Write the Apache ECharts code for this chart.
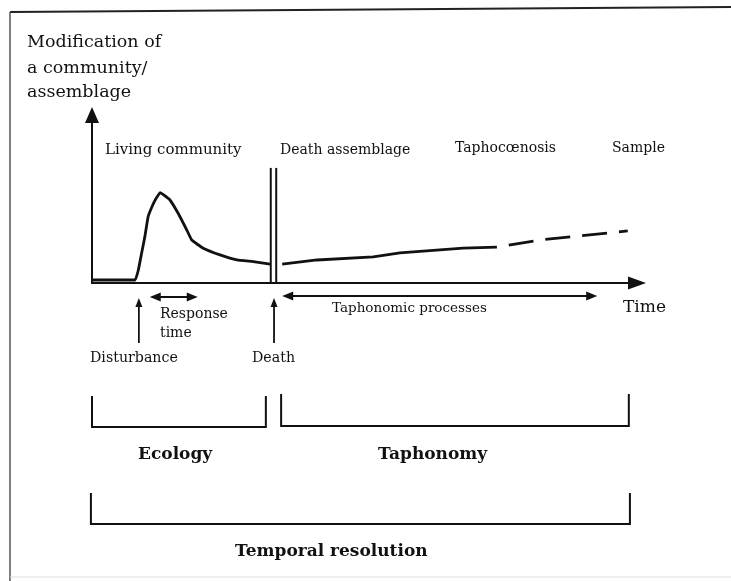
<!DOCTYPE html>
<html><head><meta charset="utf-8">
<script src="https://cdn.jsdelivr.net/npm/echarts@6/dist/echarts.min.js"></script>
<style>html,body{margin:0;padding:0;background:#fff}#c{width:731px;height:581px}</style>
</head><body><div id="c"></div>
<script>
// ---- data (time in arbitrary units 0-100, modification in arbitrary units 0-100) ----
const livingTime  = [0, 7.9, 8.5, 9.1, 9.7, 10.3, 11.0, 11.6, 12.5, 14.3, 15.8, 17.4, 18.3, 20.4, 23.5, 26.6, 29.6, 32.7];
const livingValue = [1.8, 1.8, 7.7, 17.7, 27.6, 39.5, 45.4, 49.4, 53.8, 49.4, 41.5, 31.5, 25.6, 20.7, 16.7, 13.7, 12.7, 11.3];
const deathTime   = [34.9, 41.3, 51.6, 56.5, 68.1, 74.3];
const deathValue  = [11.3, 13.7, 15.5, 17.9, 20.8, 21.4];
const sampleTime  = [74.3, 82.2, 98.3];
const sampleValue = [21.4, 25.6, 31.0];
const deathMarkTimes = [32.8, 33.8];
const deathMarkTop = 68.5;
const stageLabels = ['Living community', 'Death assemblage', 'Taphoc\u0153nosis', 'Sample'];
const eventNames = ['Disturbance', 'Death'];
const eventTimes = [8.6, 33.4];
const responseSpan = [10.6, 19.4];
const taphonomicSpan = [34.9, 92.7];
const bracketNames = ['Ecology', 'Taphonomy', 'Temporal resolution'];
const bracketSpans = [[0, 31.9], [34.7, 98.5], [-0.2, 98.7]];
const yTitleLines = ['Modification of', 'a community/', 'assemblage'];

const chart = echarts.init(document.getElementById('c'));
const INK = '#111';
const F = '"DejaVu Serif", "Liberation Serif", serif';
const zip = (a, b) => a.map((v, i) => [v, b[i]]);
const axisCommon = {
  type: 'value', min: 0, max: 100, splitLine: {show: false},
  axisTick: {show: false}, axisLabel: {show: false}
};
chart.setOption({
  animation: false,
  backgroundColor: '#fff',
  grid: {left: 92, top: 115, right: 94, bottom: 298},
  xAxis: Object.assign({}, axisCommon, {
    axisLine: {onZero: false, lineStyle: {color: INK, width: 2}, symbol: ['none', 'triangle'], symbolSize: [13, 18]}
  }),
  yAxis: Object.assign({}, axisCommon, {
    axisLine: {onZero: false, lineStyle: {color: INK, width: 2}, symbol: ['none', 'triangle'], symbolSize: [14, 16]}
  }),
  series: [
    {type: 'line', data: zip(livingTime, livingValue), symbol: 'none', smooth: 0.1,
      lineStyle: {color: INK, width: 2.8}},
    {type: 'line', data: [[deathMarkTimes[0], 0], [deathMarkTimes[0], deathMarkTop]], symbol: 'none',
      lineStyle: {color: INK, width: 2}},
    {type: 'line', data: [[deathMarkTimes[1], 0], [deathMarkTimes[1], deathMarkTop]], symbol: 'none',
      lineStyle: {color: INK, width: 2}},
    {type: 'line', data: zip(deathTime, deathValue), symbol: 'none',
      lineStyle: {color: INK, width: 2.8}},
    {type: 'line', data: zip(sampleTime, sampleValue), symbol: 'none',
      lineStyle: {color: INK, width: 2.8, type: [25, 12], dashOffset: 25}}
  ]
});

const px = t => chart.convertToPixel({gridIndex: 0}, [t, 0])[0];
const g = [];
const line = (x1, y1, x2, y2, w, c) => g.push({type: 'line', shape: {x1, y1, x2, y2}, style: {stroke: c || INK, lineWidth: w || 2}});
const poly = (pts) => g.push({type: 'polygon', shape: {points: pts}, style: {fill: INK}});
const text = (s, x, y, size, opts) => g.push({type: 'text', x, y, style: Object.assign({
  text: s, font: (opts && opts.bold ? 'bold ' : '') + size + 'px ' + F, fill: INK,
  textAlign: (opts && opts.align) || 'left', textVerticalAlign: 'middle'}, opts && opts.style)});

// frame
line(10, 12, 731, 7, 2, '#222');
line(10, 12, 10, 581, 1.5, '#555');
line(10, 577, 731, 577, 1, '#ddd');

// y title
yTitleLines.forEach((s, i) => text(s, 27, [42, 68, 92][i], 17.5));

// stage labels
[[105, 150], [280, 150], [455, 148], [612, 148]].forEach((p, i) => text(stageLabels[i], p[0], p[1], i === 0 ? 15 : 14));

// event arrows
eventTimes.forEach((t, i) => {
  const x = px(t);
  line(x, 343, x, 305, 1.8);
  poly([[x, 298], [x - 3.5, 307], [x + 3.5, 307]]);
});
text(eventNames[0], 90, 358, 14.2);
text(eventNames[1], 252, 358, 14.2);

// double arrows
function dbl(t1, t2, y) {
  const a = px(t1), b = px(t2);
  line(a + 8, y, b - 8, y, 2);
  poly([[a, y], [a + 11, y - 4.5], [a + 11, y + 4.5]]);
  poly([[b, y], [b - 11, y - 4.5], [b - 11, y + 4.5]]);
}
dbl(responseSpan[0], responseSpan[1], 297);
dbl(taphonomicSpan[0], taphonomicSpan[1], 296);
text('Response', 160, 314, 14);
text('time', 160, 333, 14);
text('Taphonomic processes', 332, 308, 13.5);
text('Time', 623, 308, 17);

// brackets
function bracket(span, top, bottom) {
  const a = px(span[0]), b = px(span[1]);
  g.push({type: 'polyline', shape: {points: [[a, top], [a, bottom], [b, bottom], [b, top]]},
    style: {stroke: INK, lineWidth: 2, fill: null}});
}
bracket(bracketSpans[0], 396, 427);
bracket(bracketSpans[1], 394, 426);
bracket(bracketSpans[2], 493, 524);
text(bracketNames[0], 138, 455, 17, {bold: true});
text(bracketNames[1], 378, 455, 17, {bold: true});
text(bracketNames[2], 235, 552, 17, {bold: true});

chart.setOption({graphic: g});
</script></body></html>
